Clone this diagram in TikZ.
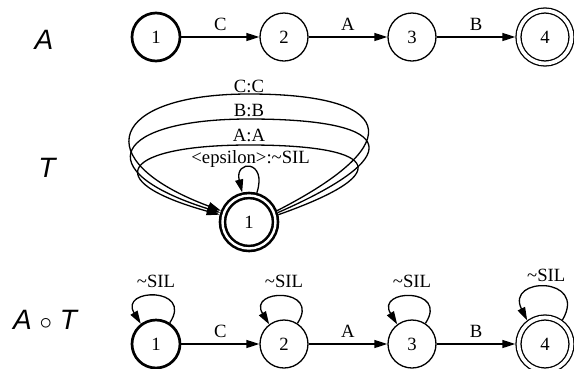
\documentclass[tikz,border=0pt]{standalone}
\usepackage{fontspec}
\setmainfont{Liberation Serif}
\newfontfamily\labfont{Liberation Sans}
\usetikzlibrary{arrows.meta}
\begin{document}
\begin{tikzpicture}[x=1pt,y=-1pt,
  st/.style={circle, draw, line width=1.3pt, minimum size=48pt, inner sep=0pt, font=\fontsize{18.7}{20}\selectfont},
  initst/.style={st, line width=2.7pt},
  finst/.style={st, double, double distance=3.7pt, minimum size=53pt, outer sep=3.15pt},
  initfinst/.style={st, line width=2.6pt, double, double distance=2.4pt, minimum size=53pt, outer sep=3.8pt},
  edge/.style={line width=1.3pt, -{Triangle[length=13pt,width=8pt]}},
  elab/.style={font=\fontsize{18.7}{20}\selectfont, inner sep=0pt},
  rowlab/.style={font=\labfont\itshape\fontsize{28}{30}\selectfont, inner sep=0pt}
]
\useasboundingbox (0,0) rectangle (574,368);
\fill[white] (0,0) rectangle (574,368);

% row labels
\node[rowlab] (la) at (44,40) {A};
\node[rowlab] (lt) at (47,168) {T};
\node[rowlab] (lat) at (45,320) {A $\circ$ T};

% automaton A
\node[initst] (a1) at (156,37) {1};
\node[st] (a2) at (284,37) {2};
\node[st] (a3) at (412,37) {3};
\node[finst] (a4) at (545,37) {4};
\draw[edge] (a1) -- node[elab, above=6pt]{C} (a2);
\draw[edge] (a2) -- node[elab, above=6pt]{A} (a3);
\draw[edge] (a3) -- node[elab, above=6pt]{B} (a4);

% transducer T
\node[initfinst] (t) at (249,222) {1};
\draw[edge] (t.22) .. controls (415,140) and (390,94) .. (249,94)
  node[elab, anchor=base, yshift=2pt]{C:C}
  .. controls (110,94) and (85,160) .. (t.158);
\draw[edge] (t.18) .. controls (420,150) and (385,119) .. (249,119)
  node[elab, anchor=base, yshift=2.5pt]{B:B}
  .. controls (115,119) and (85,170) .. (t.162);
\draw[edge] (t.14) .. controls (405,170) and (370,145) .. (249,145)
  node[elab, anchor=base, yshift=3.5pt]{A:A}
  .. controls (125,145) and (95,180) .. (t.166);
\draw[edge] (t.75) .. controls +(11,-33) and +(-8,-33) .. (t.103)
  node[elab, pos=.5, anchor=base, yshift=4pt]{<epsilon>:\textasciitilde SIL};

% composition A o T
\node[initst] (c1) at (156,344) {1};
\node[st] (c2) at (284,344) {2};
\node[st] (c3) at (412,344) {3};
\node[finst] (c4) at (545,344) {4};
\draw[edge] (c1) -- node[elab, above=6pt]{C} (c2);
\draw[edge] (c2) -- node[elab, above=6pt]{A} (c3);
\draw[edge] (c3) -- node[elab, above=6pt]{B} (c4);
\foreach \n in {c1,c2,c3}{
  \draw[edge] (\n.57) .. controls +(24,-36) and +(-22,-36) .. (\n.127)
    node[elab, pos=.5, anchor=base, yshift=9pt]{\textasciitilde SIL};
}
\draw[edge] (c4.54) .. controls +(26,-44) and +(-22,-44) .. (c4.127)
  node[elab, pos=.5, anchor=base, yshift=6pt]{\textasciitilde SIL};
\end{tikzpicture}
\end{document}
